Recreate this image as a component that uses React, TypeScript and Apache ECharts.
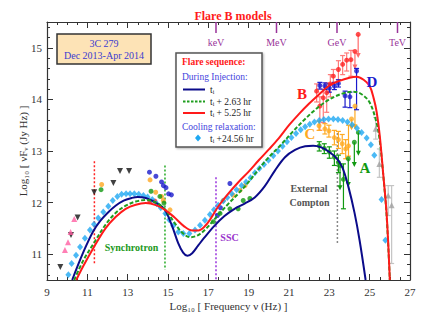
import React, { useEffect, useRef } from 'react';
import * as echarts from 'echarts';

const FONT = "'Liberation Serif', 'Times New Roman', serif";
const X_MIN = 9, X_MAX = 27, Y_MIN = 10.5, Y_MAX = 15.5;
const yMajorTicks = [11, 12, 13, 14, 15];
const yMinorTicks = [10.6, 10.8, 11.2, 11.4, 11.6, 11.8, 12.2, 12.4, 12.6, 12.8, 13.2, 13.4, 13.6, 13.8, 14.2, 14.4, 14.6, 14.8, 15.2, 15.4];

// model curves
const injectionCurve = [[10.25,10.5],[10.6,10.85],[10.95,11.17],[11.3,11.45],[11.65,11.65],[12.0,11.8],[12.4,11.94],[12.8,12.04],[13.2,12.09],[13.5,12.11],[13.9,12.09],[14.3,12.02],[14.6,11.95],[14.85,11.86],[15.2,11.55],[15.5,11.22],[15.75,11.03],[15.96,10.97],[16.2,11.02],[16.5,11.17],[16.8,11.32],[17.3,11.55],[17.8,11.74],[18.3,11.88],[18.8,11.98],[19.3,12.1],[19.8,12.32],[20.3,12.62],[20.8,12.88],[21.3,13.02],[21.8,13.09],[22.2,13.1],[22.6,13.07],[23.0,12.98],[23.35,12.86],[23.65,12.68],[23.95,12.3],[24.25,11.8],[24.5,11.27],[24.8,10.5]];
const plus263Curve = [[10.35,10.5],[10.8,10.88],[11.3,11.2],[11.9,11.57],[12.4,11.8],[12.9,11.94],[13.4,12.02],[13.9,12.05],[14.4,12.0],[14.85,11.87],[15.3,11.62],[15.7,11.42],[16.1,11.33],[16.5,11.37],[16.9,11.5],[17.4,11.72],[18.0,11.98],[18.5,12.18],[19.0,12.4],[19.5,12.65],[20.0,12.88],[20.6,13.12],[21.2,13.38],[21.8,13.62],[22.3,13.8],[22.8,13.95],[23.3,14.06],[23.8,14.13],[24.2,14.15],[24.6,14.1],[25.0,13.94],[25.34,13.55],[25.5,13.2],[25.67,12.55],[25.84,11.75],[26.0,10.5]];
const plus525Curve = [[10.45,10.5],[10.8,10.77],[11.3,11.12],[11.9,11.5],[12.4,11.72],[12.9,11.88],[13.4,11.96],[13.9,11.99],[14.4,11.95],[14.85,11.86],[15.3,11.72],[15.8,11.54],[16.2,11.46],[16.5,11.46],[16.8,11.53],[17.1,11.68],[17.5,11.93],[18.0,12.18],[18.5,12.4],[19.0,12.6],[19.5,12.82],[20.0,13.03],[20.5,13.25],[21.0,13.5],[21.5,13.72],[22.0,13.92],[22.5,14.1],[23.0,14.27],[23.5,14.36],[24.0,14.42],[24.35,14.44],[24.7,14.38],[25.0,14.26],[25.2,14.02],[25.35,13.75],[25.5,13.3],[25.67,12.56],[25.84,11.79],[26.0,10.5]];
const coolingPoints = [[10.06,10.6],[10.22,10.82],[10.44,10.98],[10.64,11.14],[10.88,11.31],[11.13,11.47],[11.33,11.58],[11.54,11.7],[11.79,11.82],[12.04,11.93],[12.26,12.04],[12.49,12.12],[12.7,12.16],[12.92,12.17],[13.12,12.17],[13.33,12.17],[13.55,12.16],[13.78,12.14],[13.99,12.11],[14.22,12.06],[14.44,11.98],[14.64,11.9],[14.87,11.79],[15.06,11.67],[15.26,11.55],[15.51,11.43],[15.76,11.4],[16.06,11.4],[16.34,11.47],[16.59,11.56],[16.83,11.66],[17.08,11.77],[17.28,11.86],[17.49,11.95],[17.74,12.03],[17.94,12.1],[18.16,12.17],[18.4,12.25],[18.65,12.33],[18.87,12.4],[19.09,12.48],[19.31,12.58],[19.53,12.66],[19.76,12.74],[19.98,12.82],[20.22,12.91],[20.45,13.0],[20.68,13.09],[20.9,13.18],[21.12,13.26],[21.35,13.34],[21.58,13.41],[21.8,13.47],[22.03,13.52],[22.26,13.56],[22.5,13.59],[22.73,13.61],[22.96,13.62],[23.2,13.62],[23.43,13.61],[23.66,13.59],[23.9,13.56],[24.13,13.51],[24.37,13.44],[24.6,13.36],[24.85,13.25],[25.06,13.12],[25.23,12.92],[25.59,12.06],[25.78,11.27]];

// low-frequency data
const radioLimits = [[9.66,10.75],[10.19,11.37],[10.52,11.71],[11.34,12.2],[12.29,12.38],[12.62,12.61],[13.07,12.61]];
const radioPink = [[9.89,11.08],[10.04,11.23],[10.17,11.43],[10.35,11.68]];
const opticalBlue = [[14.08,12.59],[14.4,12.51],[14.68,12.4],[14.77,12.33],[14.9,12.29],[15.03,12.17],[15.17,12.15],[17.45,11.75],[17.6,11.9],[18.07,12.37]];
const opticalOrange = [[11.71,12.35],[14.11,12.44],[14.39,12.2],[14.68,12.12],[14.77,12.04],[15.1,11.86],[17.74,12.04],[18.24,12.14],[18.57,12.24],[18.82,12.33]];
const opticalGreen = [[11.68,12.25],[14.16,12.22],[14.6,12.12],[14.8,11.99],[17.25,11.63],[17.58,11.79],[18.07,11.88],[18.48,11.88],[18.73,12.04],[19.06,12.08]];
const opticalRed = [[14.1,12.02],[14.35,12.03]];

// gamma-ray states: [freq, value, low, high]
const stateB = [[22.37,14.16,13.95,14.3],[22.53,13.87,13.4,14.05],[22.7,14.03,13.55,14.2],[22.87,14.13,13.75,14.32],[23.05,14.3,14.05,14.48],[23.2,14.45,14.3,14.58],[23.45,14.58,14.38,14.75],[23.66,14.68,14.48,14.85],[23.86,14.76,14.55,14.9],[24.07,14.77,14.45,14.95]];
const stateBLimits = [[24.43,15.26,14.8],[24.27,14.93,14.58]];
const stateD = [[22.53,14.27,14.2,14.33],[22.78,14.26,14.19,14.32],[23.0,14.22,14.14,14.3],[23.25,14.26,14.19,14.33],[23.45,14.31,14.24,14.38],[23.78,14.07,13.85,14.16],[24.02,14.05,13.84,14.14],[24.35,14.55,13.8,14.6]];
const stateC = [[22.49,13.49,13.4,13.58],[22.78,13.43,13.33,13.53],[22.98,13.39,13.27,13.5],[23.25,13.26,13.12,13.4],[23.45,13.22,13.05,13.38],[23.64,13.14,12.95,13.32],[23.81,13.04,12.85,13.22],[23.95,13.1,12.9,13.5]];
const stateCLimits = [[24.27,13.87,13.42],[24.1,13.62,13.4]];
const stateA = [[22.5,13.1,13.0,13.18],[22.75,13.05,12.95,13.14],[23.0,12.98,12.86,13.08],[23.25,12.88,12.72,13.0],[23.45,12.78,12.58,12.92],[23.7,12.45,11.88,12.75]];
const stateALimits = [[23.53,12.72,12.24],[23.94,12.85,12.3],[24.24,13.17,12.69],[24.44,13.36,12.91]];
const tevPoints = [[25.3,13.43,13.23,13.65],[25.48,12.75,12.49,13.04],[25.92,12.14,11.75,12.33],[26.09,11.95,10.82,12.33]];

// reference lines and bands
const dividerFreqs = [11.35, 14.85, 17.38, 23.4];
const dividerTops = [12.8, 12.72, 12.49, 13.35];
const dividerBottoms = [10.79, 10.7, 10.5, 11.2];
const dividerColors = ['#ff2222', '#22aa22', '#9933dd', '#888888'];
const bandFreqs = [17.38, 20.38, 23.38, 26.38];
const bandLabels = ['keV', 'MeV', 'GeV', 'TeV'];

function errorBars(data: number[][], color: string, z = 4) {
  return {
    type: 'custom', data, encode: { x: 0, y: 1 }, z, silent: true,
    renderItem: (_p: any, api: any) => {
      const x = api.value(0);
      const lo = api.coord([x, api.value(2)]);
      const hi = api.coord([x, api.value(3)]);
      const c = 2.5;
      const style = { stroke: color, lineWidth: 1.2 };
      return { type: 'group', children: [
        { type: 'line', shape: { x1: lo[0], y1: lo[1], x2: hi[0], y2: hi[1] }, style },
        { type: 'line', shape: { x1: lo[0] - c, y1: lo[1], x2: lo[0] + c, y2: lo[1] }, style },
        { type: 'line', shape: { x1: hi[0] - c, y1: hi[1], x2: hi[0] + c, y2: hi[1] }, style },
      ] };
    },
  };
}

function limitArrows(data: number[][], color: string) {
  return {
    type: 'custom', data, encode: { x: 0, y: 1 }, z: 4, silent: true,
    renderItem: (_p: any, api: any) => {
      const x = api.value(0);
      const top = api.coord([x, api.value(1)]);
      const end = api.coord([x, api.value(2)]);
      return { type: 'group', children: [
        { type: 'line', shape: { x1: top[0], y1: top[1], x2: end[0], y2: end[1] - 3 }, style: { stroke: color, lineWidth: 1.2 } },
        { type: 'polygon', shape: { points: [[end[0] - 2.5, end[1] - 5], [end[0] + 2.5, end[1] - 5], [end[0], end[1]]] }, style: { fill: color } },
      ] };
    },
  };
}

function dots(data: number[][], color: string, symbol = 'circle', size = 5, rotate = 0) {
  return { type: 'scatter', data: data.map((d) => [d[0], d[1]]), symbol, symbolSize: size, symbolRotate: rotate, itemStyle: { color }, z: 5, silent: true };
}

function curve(data: number[][], color: string, type: any) {
  return { type: 'line', data, smooth: 0.35, symbol: 'none', lineStyle: { color, width: 2, type }, z: 6, silent: true };
}

function txt(text: string, x: number, y: number, color: string, size: number, bold = false, align = 'center') {
  return { type: 'text', x, y, z: 20, style: { text, fill: color, font: `${bold ? 'bold ' : ''}${size}px ${FONT}`, align, textAlign: align, verticalAlign: 'middle', textVerticalAlign: 'middle' } };
}

export default function App() {
  const ref = useRef<HTMLDivElement>(null);
  useEffect(() => {
    if (!ref.current) return;
    const chart = echarts.init(ref.current, undefined, { renderer: 'svg' });
    const axisLine = { show: true, lineStyle: { color: '#333', width: 1.2 } };
    const tickStyle = { color: '#333', width: 1 };
    const xBase = (pos: string, labels: boolean) => ({
      type: 'value', min: X_MIN, max: X_MAX, interval: 2, position: pos,
      axisLine, splitLine: { show: false },
      axisTick: { show: true, inside: true, length: 6, lineStyle: tickStyle },
      minorTick: { show: true, splitNumber: 4, length: 3, lineStyle: tickStyle },
      axisLabel: { show: labels, color: '#333', fontSize: 11, fontFamily: FONT, margin: 6 },
    });
    const yBase = (pos: string, major: boolean, labels: boolean) => ({
      type: 'value', min: Y_MIN, max: Y_MAX, position: pos,
      axisLine: major ? axisLine : { show: false }, splitLine: { show: false },
      axisTick: { show: true, inside: true, length: major ? 6 : 3, customValues: major ? yMajorTicks : yMinorTicks, lineStyle: tickStyle },
      axisLabel: { show: labels, customValues: yMajorTicks, color: '#333', fontSize: 11, fontFamily: FONT, margin: 5 },
    });
    const dividerSeries = dividerFreqs.map((f, i) => ({
      type: 'line', data: [[f, dividerTops[i]], [f, dividerBottoms[i]]], symbol: 'none', silent: true, z: 3,
      lineStyle: { color: dividerColors[i], width: 1.5, type: [2, 2] },
    }));
    chart.setOption({
      animation: false,
      backgroundColor: '#fff',
      title: { text: 'Flare B models', left: 228, top: 5, textAlign: 'center', textStyle: { color: '#ff1a1a', fontSize: 12, fontWeight: 'bold', fontFamily: FONT } },
      grid: { left: 47, right: 37, top: 22, bottom: 43, outerBoundsMode: 'none' },
      xAxis: [
        { ...xBase('bottom', true), name: 'Log₁₀ [ Frequency ν (Hz) ]', nameLocation: 'middle', nameGap: 20, nameMoveOverlap: false, nameTextStyle: { color: '#333', fontSize: 11, fontFamily: FONT } },
        xBase('top', false),
      ],
      yAxis: [
        { ...yBase('left', true, true), name: 'Log₁₀ [ νFᵥ (Jy Hz) ]', nameLocation: 'middle', nameGap: 19, nameMoveOverlap: false, nameTextStyle: { color: '#333', fontSize: 11, fontFamily: FONT } },
        yBase('left', false, false),
        yBase('right', true, false),
        yBase('right', false, false),
      ],
      series: [
        ...dividerSeries,
        {
          type: 'custom', data: bandFreqs.map((f) => [f, Y_MAX]), encode: { x: 0, y: 1 }, z: 3, silent: true,
          renderItem: (p: any, api: any) => {
            const pt = api.coord([api.value(0), api.value(1)]);
            return { type: 'group', children: [
              { type: 'line', shape: { x1: pt[0], y1: pt[1], x2: pt[0], y2: pt[1] + 11 }, style: { stroke: '#993399', lineWidth: 1.5 } },
              { type: 'text', x: pt[0], y: pt[1] + 20, style: { text: bandLabels[p.dataIndex], fill: '#993399', font: `10px ${FONT}`, align: 'center', textAlign: 'center', verticalAlign: 'middle', textVerticalAlign: 'middle' } },
            ] };
          },
        },
        dots(radioLimits, '#111', 'triangle', 6, 180),
        dots(radioPink, '#ff5fa2', 'triangle', 6),
        dots(opticalBlue, '#1a1acc'),
        dots(opticalOrange, '#ffa820'),
        dots(opticalGreen, '#119911'),
        dots(opticalRed, '#ff2020'),
        errorBars(stateB, '#ff7a7a'),
        limitArrows(stateBLimits, '#ff6a6a'),
        dots(stateB, '#ff2020'),
        dots(stateBLimits, '#ff2020'),
        errorBars(stateC, '#ffaa22'),
        limitArrows(stateCLimits, '#ffaa22'),
        dots(stateC, '#ffaa22'),
        dots(stateCLimits, '#ffaa22'),
        errorBars(stateA, '#119911'),
        limitArrows(stateALimits, '#119911'),
        dots(stateA, '#119911'),
        dots(stateALimits, '#119911'),
        errorBars(stateD, '#1a1acc'),
        dots(stateD, '#1a1acc'),
        errorBars(tevPoints, '#c4c4c4'),
        dots(tevPoints, '#a0a0a0', 'triangle', 6),
        { type: 'scatter', data: coolingPoints, symbol: 'diamond', symbolSize: [6, 7], itemStyle: { color: '#1ea8f2' }, z: 5, silent: true },
        curve(injectionCurve, '#0b0b8a', 'solid'),
        curve(plus263Curve, '#1f9e1f', [4, 2]),
        curve(plus525Curve, '#ff1a1a', 'solid'),
      ],
      graphic: [
        { type: 'rect', shape: { x: 57, y: 34, width: 94, height: 30 }, style: { fill: '#fde3b6', stroke: '#333', lineWidth: 1.5 }, z: 19 },
        txt('3C 279', 104, 43.5, '#3b3bd0', 10),
        txt('Dec 2013-Apr 2014', 104, 55.5, '#3b3bd0', 10),
        { type: 'rect', shape: { x: 176, y: 53, width: 86, height: 94 }, style: { fill: '#fff', stroke: '#555', lineWidth: 1.5, shadowBlur: 2, shadowColor: 'rgba(0,0,0,0.3)', shadowOffsetX: 1, shadowOffsetY: 1 }, z: 19 },
        txt('Flare sequence:', 182, 62, '#ff1a1a', 9.5, true, 'left'),
        txt('During Injection:', 182, 77, '#4444dd', 9.5, false, 'left'),
        { type: 'line', shape: { x1: 183, y1: 89.5, x2: 205, y2: 89.5 }, style: { stroke: '#0b0b8a', lineWidth: 2 }, z: 20 },
        txt('tᵢ', 210, 89.5, '#222', 9.5, false, 'left'),
        { type: 'line', shape: { x1: 183, y1: 101.5, x2: 205, y2: 101.5 }, style: { stroke: '#1f9e1f', lineWidth: 2, lineDash: [2.5, 1.5] }, z: 20 },
        txt('tᵢ + 2.63 hr', 210, 101.5, '#222', 9.5, false, 'left'),
        { type: 'line', shape: { x1: 183, y1: 113, x2: 205, y2: 113 }, style: { stroke: '#ff1a1a', lineWidth: 2 }, z: 20 },
        txt('tᵢ + 5.25 hr', 210, 113, '#222', 9.5, false, 'left'),
        txt('Cooling relaxation:', 182, 126.5, '#4444dd', 9.5, false, 'left'),
        { type: 'polygon', shape: { points: [[198, 134.5], [201, 138], [198, 141.5], [195, 138]] }, style: { fill: '#1ea8f2' }, z: 20 },
        txt('tᵢ +24.56 hr', 210, 138.5, '#222', 9.5, false, 'left'),
        txt('Synchrotron', 131.5, 247, '#229922', 10, true),
        txt('SSC', 229.5, 237, '#9933cc', 10, true),
        txt('External', 309, 188.5, '#555', 10, true),
        txt('Compton', 309.5, 202.5, '#555', 10, true),
        txt('A', 365, 168, '#119911', 15, true),
        txt('B', 302, 94, '#ff1a1a', 15, true),
        txt('C', 310, 134, '#ffaa22', 15, true),
        txt('D', 372, 82, '#1a1acc', 15, true),
      ],
    });
    return () => chart.dispose();
  }, []);
  return <div ref={ref} style={{ position: 'fixed', left: 0, top: 0, width: 447, height: 323, background: '#fff' }} />;
}
